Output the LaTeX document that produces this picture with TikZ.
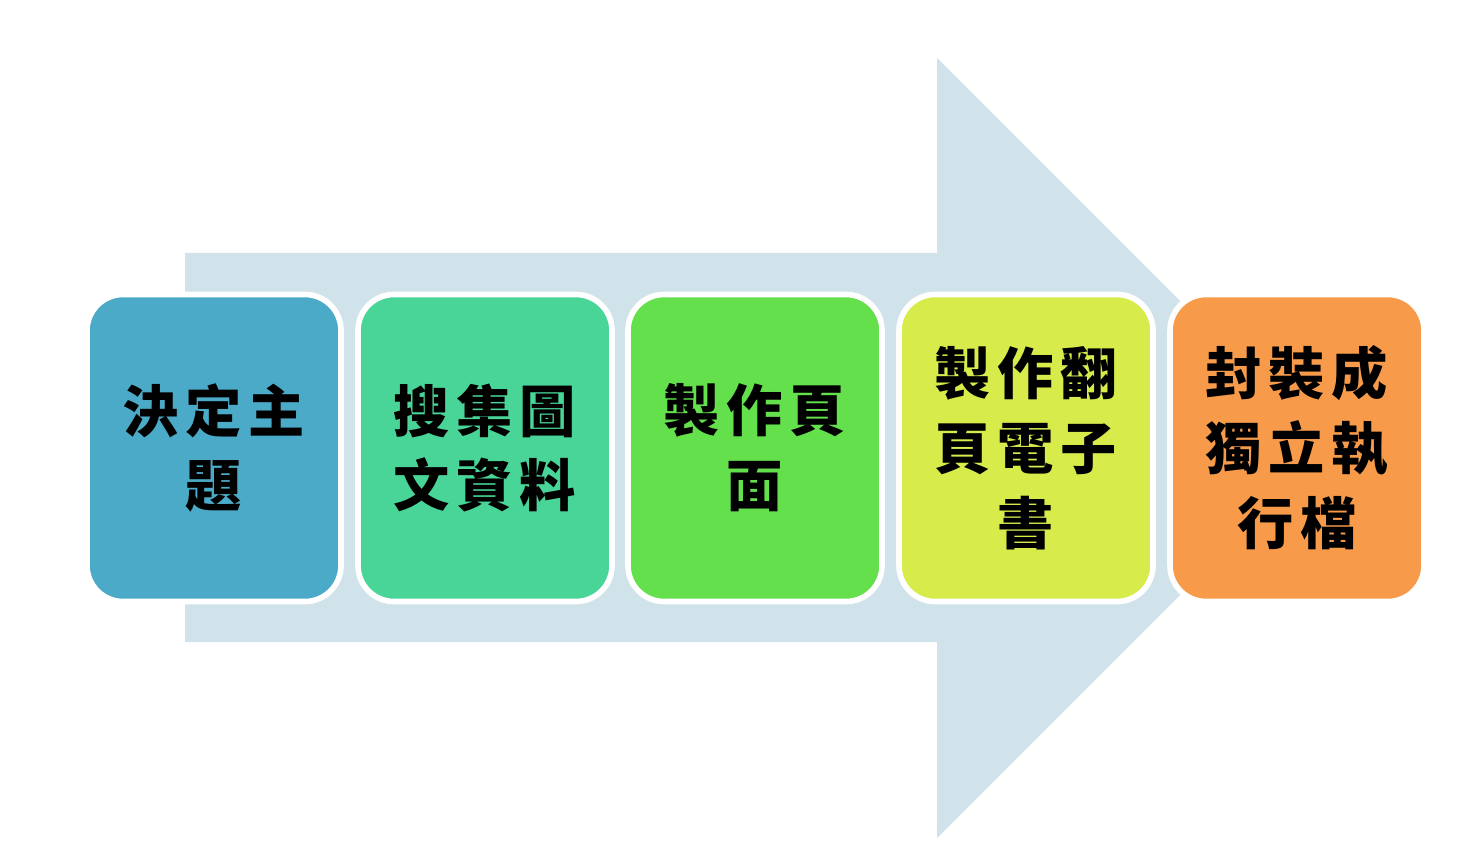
\documentclass[tikz,border=0pt]{standalone}
\usepackage{fontspec}
\newfontfamily\tcfont[LetterSpace=12]{Noto Sans CJK TC}
\definecolor{arrowblue}{HTML}{D1E3EA}
\definecolor{stepA}{HTML}{4BAAC8}
\definecolor{stepB}{HTML}{48D597}
\definecolor{stepC}{HTML}{63E04C}
\definecolor{stepD}{HTML}{D7EB4B}
\definecolor{stepE}{HTML}{F79B4B}
\tikzset{
  stepbox/.style={draw=white, line width=1.6pt, rounded corners=0.36cm,
    minimum width=2.54cm, minimum height=3.07cm, align=center,
    font=\tcfont\bfseries\fontsize{16pt}{21.3pt}\selectfont, text=black, inner sep=0pt}
}
\begin{document}
\begin{tikzpicture}[x=0.1mm, y=-0.1mm, line join=round]
\useasboundingbox (0,0) rectangle (1469,860);
\fill[white] (0,0) rectangle (1469,860);
% big arrow behind
\fill[arrowblue] (185,253)--(937,253)--(937,58)--(1327,448)--(937,838)--(937,642)--(185,642)--cycle;
% steps
\node[stepbox, fill=stepA] (topic) at (214,448) {決定主\\題};
\node[stepbox, fill=stepB] (collect) at (485,448) {搜集圖\\文資料};
\node[stepbox, fill=stepC] (pages) at (755,448) {製作頁\\面};
\node[stepbox, fill=stepD] (ebook) at (1026,448) {製作翻\\頁電子\\書};
\node[stepbox, fill=stepE] (package) at (1297,448) {封裝成\\獨立執\\行檔};
\end{tikzpicture}
\end{document}
